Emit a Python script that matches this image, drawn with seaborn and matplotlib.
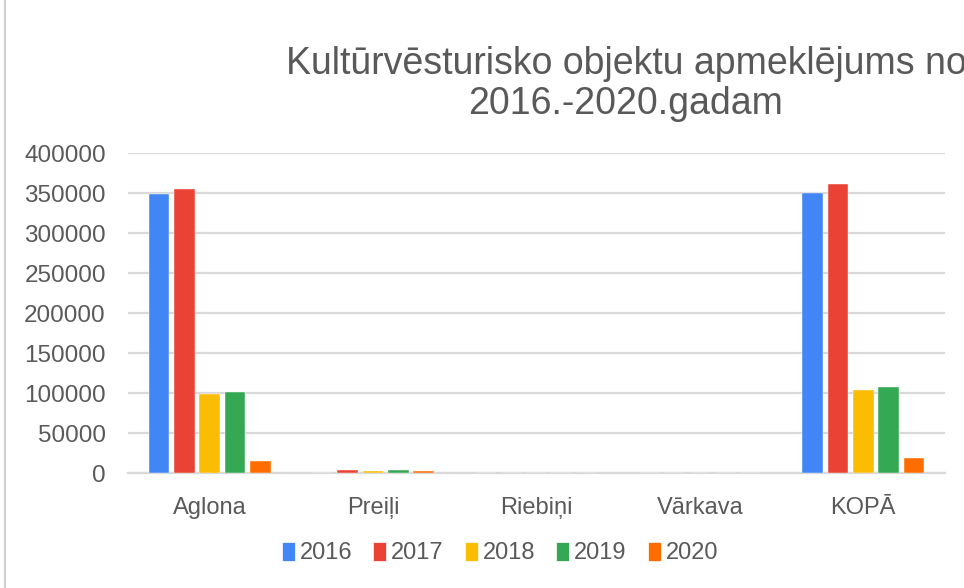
import matplotlib
matplotlib.use("Agg")
import matplotlib.pyplot as plt
from matplotlib.patches import Rectangle, Patch
import seaborn as sns
import pandas as pd

# data
regions = ["Aglona", "Preiļi", "Riebiņi", "Vārkava", "KOPĀ"]
years = ["2016", "2017", "2018", "2019", "2020"]
v2016 = [348500, 0, 0, 0, 349500]
v2017 = [355000, 3900, 0, 0, 361000]
v2018 = [99000, 2400, 0, 0, 103800]
v2019 = [100800, 3900, 0, 0, 107000]
v2020 = [15400, 2400, 0, 0, 18300]
colors = ["#4285F4", "#EA4335", "#FBBC04", "#34A853", "#FF6D01"]

rows = []
for year, vals in zip(years, [v2016, v2017, v2018, v2019, v2020]):
    for reg, v in zip(regions, vals):
        rows.append({"Region": reg, "Year": year, "Visits": v})
df = pd.DataFrame(rows)

sns.set_style("white")
plt.rcParams["font.family"] = ["Liberation Sans", "DejaVu Sans"]
txt = "#595959"

fig = plt.figure(figsize=(9.64, 5.88), dpi=100)
ax = fig.add_axes([128 / 964, 1 - 473 / 588, (945 - 128) / 964, (473 - 153) / 588])

sns.barplot(data=df, x="Region", y="Visits", hue="Year", hue_order=years,
            palette=colors, saturation=1, width=0.775, gap=0.18, ax=ax,
            edgecolor="white", linewidth=0.3, legend=False)

ax.set_ylim(0, 400000)
ax.set_yticks(range(0, 400001, 50000))
ax.set_yticklabels([str(t) for t in range(0, 400001, 50000)])
ax.set_xlim(-0.5, 4.5)
ax.yaxis.grid(True, color="#d9d9d9", linewidth=1.6)
ax.set_axisbelow(True)
for s in ["left", "right", "top"]:
    ax.spines[s].set_visible(False)
ax.spines["bottom"].set_color("#d9d9d9")
ax.spines["bottom"].set_linewidth(1.6)
ax.spines["bottom"].set_zorder(0.5)
ax.tick_params(axis="y", length=0, pad=16, labelsize=17.5, labelcolor=txt)
ax.tick_params(axis="x", length=0, pad=17, labelsize=17, labelcolor=txt)
ax.set_xlabel("")
ax.set_ylabel("")

fig.text(626 / 964, 1 - 84 / 588,
         "Kultūrvēsturisko objektu apmeklējums no\n2016.-2020.gadam",
         ha="center", va="center", fontsize=27, color=txt, linespacing=1.15)

handles = [Patch(facecolor=c, edgecolor="white", linewidth=0.5) for c in colors]
fig.legend(handles, years, loc="center", bbox_to_anchor=(500 / 964, 1 - 553 / 588),
           ncol=5, frameon=False, fontsize=17, labelcolor=txt,
           handlelength=0.55, handleheight=0.9, handletextpad=0.2, columnspacing=0.9)

# outer chart frame (cropped at right and bottom)
fig.patches.append(Rectangle((5 / 964, -0.2), 1.2, 1.2 + (1 - 10 / 588),
                             transform=fig.transFigure, fill=False,
                             edgecolor="#d0d0d0", linewidth=1.5))

fig.savefig("out.png", dpi=100)
